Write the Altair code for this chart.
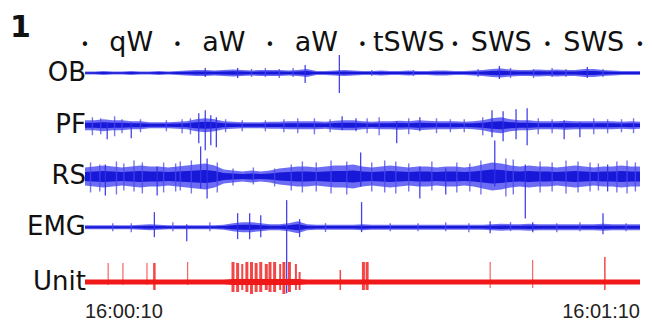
import altair as alt
import pandas as pd

# ---------------- data ----------------
channels = ["OB", "PF", "RS", "EMG", "Unit"]
levels = [4.0, 3.0, 2.02, 1.05, 0.0]          # vertical slot of each trace
GAIN = 1 / 52.25                               # trace units per amplitude unit

# envelope amplitude at each second (t = 0..60 s)
ob_amp = [1.5, 1.5, 2, 1.5, 1.5, 2, 1.5, 1.5, 2, 1.5, 2,
          2.5, 3, 3, 2.5, 3, 3.5, 3, 2.5, 3, 3, 3,
          2.5, 3, 4, 2, 2, 2.5, 3, 2.5, 2,
          2, 2.5, 2, 2, 2.5, 2, 2, 2.5, 2.5, 2,
          2, 2.5, 3, 4, 4.5, 3.5, 3, 3, 3.5, 3,
          3.5, 3, 3, 4, 4, 3, 2.5, 2, 2, 2]
pf_amp = [5, 5, 6, 5, 5, 4, 4, 3, 3, 3, 3.5,
          4, 6, 7, 6, 4, 3.5, 3, 3, 3, 3.5,
          3.5, 4, 4, 4, 4, 3.5, 4.5, 5, 5, 4,
          3.5, 4, 4, 4.5, 4, 5, 4.5, 4, 4, 4,
          3.5, 4, 5, 7, 8, 6, 5, 5, 4, 4,
          4, 4.5, 4, 4, 4, 4, 4, 3.5, 4, 3.5]
rs_amp = [9, 10, 11, 10, 9, 10, 11, 10, 10, 9, 10,
          11, 12, 13, 11, 7, 6, 5, 6, 5, 6,
          8, 9, 10, 10, 9, 10, 11, 11, 12, 10,
          9, 10, 11, 10, 9, 10, 10, 9, 10, 10,
          9, 10, 12, 14, 13, 11, 10, 11, 10, 10,
          9, 10, 11, 10, 9, 10, 10, 11, 10, 10]
emg_amp = [2, 2, 2, 2, 2, 2, 2.5, 3, 2.5, 2, 2,
           2, 2, 2, 2, 2.5, 4, 5, 5, 4, 3,
           3, 4, 6, 3, 2.5, 2.5, 2.5, 2.5, 2.5, 3,
           2.5, 2.5, 2.5, 2.5, 2.5, 2.5, 2.5, 2.5, 2.5, 2.5,
           2.5, 2.5, 2.5, 3, 3.5, 3, 3, 3.5, 3, 3,
           3, 3, 3, 3, 3, 3.5, 3, 3, 3, 3]
unit_amp = [2.5, 2.5, 2.5, 2.5, 2.5, 2.5, 2.5, 2.5, 2.5, 2.5, 2.5,
            2.5, 2.5, 2.5, 2.5, 2.5, 3, 3, 3, 3, 3,
            3, 3, 3, 2.5, 2.5, 2.5, 2.5, 2.5, 2.5, 2.5,
            2.5, 2.5, 2.5, 2.5, 2.5, 2.5, 2.5, 2.5, 2.5, 2.5,
            2.5, 2.5, 2.5, 2.5, 2.5, 2.5, 2.5, 2.5, 2.5, 2.5,
            2.5, 2.5, 2.5, 2.5, 2.5, 2.5, 2.5, 2.5, 2.5, 2.5]

# large transients: time (s), excursion up, excursion down
ob_spk_t = [13.0, 16.5, 23.8, 27.5, 44.8, 54.3]
ob_spk_up = [5, 5, 8, 18, 7, 6]
ob_spk_dn = [4, 5, 10, 20, 6, 5]

pf_spk_t = [2.4, 5.0, 12.3, 13.0, 13.6, 14.2, 27.8, 29.3, 33.7, 36.2,
            44.0, 45.2, 46.6, 47.8, 51.8, 53.5]
pf_spk_up = [3, 3, 12, 15, 10, 8, 9, 7, 4, 8, 15, 14, 16, 17, 5, 3]
pf_spk_dn = [14, 13, 18, 25, 20, 22, 5, 6, 18, 6, 12, 16, 14, 20, 14, 12]

rs_spk_t = [2.2, 7.8, 12.5, 13.2, 29.8, 36.2, 39.0, 44.3, 47.6, 56.5]
rs_spk_up = [12, 10, 30, 18, 24, 10, 8, 36, 12, 12]
rs_spk_dn = [19, 19, 12, 22, 10, 22, 18, 10, 42, 15]

emg_spk_t = [7.5, 11.0, 16.5, 17.8, 19.0, 21.8, 23.2, 29.9, 43.8, 48.4, 56.0]
emg_spk_up = [15, 3, 14, 14, 12, 27, 8, 25, 6, 5, 14]
emg_spk_dn = [10, 14, 12, 12, 10, 66, 10, 5, 6, 5, 7]

# small ripples riding on each trace: time (s), up, down
ob_rip_t = [18.0, 19.5, 21.0, 22.5, 31.0, 35.5, 42.5, 46.0, 48.5, 50.5, 52.0, 56.0]
ob_rip_up = [4, 5, 4, 5, 3, 3, 4, 5, 4, 5, 4, 4]
ob_rip_dn = [4, 4, 5, 4, 3, 3, 4, 5, 5, 4, 4, 4]

pf_rip_t = [0.8, 1.7, 3.2, 4.0, 6.0, 8.8, 10.5, 11.4, 15.2, 17.0, 19.5, 21.5, 23.0, 24.8,
            26.5, 30.5, 31.8, 35.0, 38.0, 39.5, 41.0, 43.0, 49.0, 50.5, 55.0, 56.5, 58.0, 59.3]
pf_rip_up = [8, 7, 9, 6, 6, 5, 6, 7, 6, 5, 5, 6, 7, 7, 6, 7, 8, 7, 7, 6, 6, 8, 7, 6, 7, 6, 6, 7]
pf_rip_dn = [10, 9, 11, 8, 7, 6, 8, 9, 7, 6, 6, 7, 8, 9, 7, 8, 10, 9, 8, 7, 7, 10, 9, 8, 9, 8, 7, 8]

rs_rip_t = [0.6, 1.6, 3.4, 4.2, 5.3, 6.2, 8.5, 9.8, 10.3, 11.5, 14.3, 16.0, 18.2, 20.5,
            22.3, 23.5, 25.0, 26.6, 28.3, 31.0, 32.4, 33.6, 35.0, 37.5, 40.2, 41.6, 42.8,
            45.5, 46.3, 49.2, 50.5, 52.0, 53.3, 54.6, 55.5, 57.5, 58.6, 59.5]
rs_rip_up = [14, 12, 15, 13, 16, 14, 14, 13, 15, 16, 14, 8, 9, 8, 12, 15, 14, 16, 15, 14,
             16, 15, 13, 15, 14, 13, 16, 18, 17, 15, 14, 16, 15, 14, 13, 15, 16, 14]
rs_rip_dn = [16, 15, 18, 14, 15, 17, 16, 15, 14, 17, 16, 9, 8, 10, 14, 16, 15, 17, 18, 15,
             16, 17, 15, 14, 16, 15, 18, 20, 18, 16, 15, 17, 16, 15, 14, 16, 17, 15]

emg_rip_t = [3.0, 5.0, 9.5, 13.5, 26.0, 33.0, 36.0, 39.0, 41.5, 46.0, 51.0, 53.5, 58.5]
emg_rip_up = [4, 4, 5, 5, 4, 4, 4, 5, 4, 5, 4, 5, 4]
emg_rip_dn = [4, 5, 4, 4, 5, 4, 4, 4, 5, 4, 5, 4, 4]

unit_spk_t = [2.5, 4.1, 6.7, 7.5, 11.1,
              16.0, 16.5, 17.0, 17.5, 18.0, 18.5, 19.0, 19.6, 20.0, 20.5,
              21.1, 21.5, 22.1, 22.8, 23.2,
              27.6, 30.1, 30.5, 43.8, 48.4, 56.2]
unit_spk_up = [19, 19, 19, 19, 20,
               20, 19, 18, 20, 20, 19, 20, 18, 20, 20,
               18, 20, 20, 18, 10,
               12, 20, 20, 20, 22, 25]
unit_spk_dn = [3, 3, 3, 8, 3,
               10, 10, 8, 10, 12, 10, 10, 8, 10, 10,
               8, 12, 10, 8, 8,
               8, 8, 8, 6, 6, 8]
unit_spk_w = [1, 1, 1, 2.5, 1,
              3, 3, 2, 3, 3, 3, 3, 3, 3, 3,
              2, 3, 3, 2, 2,
              1.5, 3, 3, 1, 1, 1.5]

stages = ["qW", "aW", "aW", "tSWS", "SWS", "SWS"]
stage_t = [5, 15, 25, 35, 45, 55]
bullet_t = [0, 10, 20, 30, 40, 50, 60]
time_start_label = "16:00:10"
time_end_label = "16:01:10"

# ---------------- build tables ----------------
amps = {"OB": ob_amp, "PF": pf_amp, "RS": rs_amp, "EMG": emg_amp, "Unit": unit_amp}
spikes = {
    "OB": (ob_spk_t, ob_spk_up, ob_spk_dn),
    "PF": (pf_spk_t, pf_spk_up, pf_spk_dn),
    "RS": (rs_spk_t, rs_spk_up, rs_spk_dn),
    "EMG": (emg_spk_t, emg_spk_up, emg_spk_dn),
}
ripples = {
    "OB": (ob_rip_t, ob_rip_up, ob_rip_dn),
    "PF": (pf_rip_t, pf_rip_up, pf_rip_dn),
    "RS": (rs_rip_t, rs_rip_up, rs_rip_dn),
    "EMG": (emg_rip_t, emg_rip_up, emg_rip_dn),
}
lvl = dict(zip(channels, levels))

env_rows = []
for ch in channels:
    for t, a in enumerate(amps[ch]):
        env_rows.append({"ch": ch, "t": t,
                         "hi": lvl[ch] + a * GAIN, "lo": lvl[ch] - a * GAIN,
                         "hi2": lvl[ch] + 0.5 * a * GAIN, "lo2": lvl[ch] - 0.5 * a * GAIN})
env = pd.DataFrame(env_rows)
blue_env = env[env.ch != "Unit"]
red_env = env[env.ch == "Unit"]


def excursions(table):
    rows = []
    for ch, (ts, ups, dns) in table.items():
        for t, u, d in zip(ts, ups, dns):
            rows.append({"ch": ch, "t": t, "hi": lvl[ch] + u * GAIN, "lo": lvl[ch] - d * GAIN})
    return pd.DataFrame(rows)


spk = excursions(spikes)
rip = excursions(ripples)

uspk = pd.DataFrame({
    "t": unit_spk_t,
    "hi": [lvl["Unit"] + u * GAIN for u in unit_spk_up],
    "lo": [lvl["Unit"] - d * GAIN for d in unit_spk_dn],
    "w": unit_spk_w,
})

labels = pd.DataFrame({"ch": channels, "lvl": levels})
stage_df = pd.DataFrame({"label": stages, "t": stage_t})
bullet_df = pd.DataFrame({"t": bullet_t, "label": ["•"] * len(bullet_t)})
t0_df = pd.DataFrame({"label": [time_start_label], "t": [0]})
t1_df = pd.DataFrame({"label": [time_end_label], "t": [60]})

xs = alt.Scale(domain=[0, 60], range=[77, 632])
ys = alt.Scale(domain=[0, 4], range=[274, 65])
X = alt.X("t:Q", scale=xs, axis=None)

BLUE_OUT = "#5252f2"
BLUE_IN = "#1818d8"
RED = "#f01818"

outer = alt.Chart(blue_env).mark_area(color=BLUE_OUT, opacity=0.85).encode(
    x=X, y=alt.Y("hi:Q", scale=ys, axis=None), y2="lo:Q", detail="ch:N")
inner = alt.Chart(blue_env).mark_area(color=BLUE_IN).encode(
    x=X, y=alt.Y("hi2:Q", scale=ys, axis=None), y2="lo2:Q", detail="ch:N")
rip_layer = alt.Chart(rip).mark_rule(color="#4848ee", strokeWidth=1.4, opacity=0.75).encode(
    x=X, y=alt.Y("hi:Q", scale=ys, axis=None), y2="lo:Q")
spk_layer = alt.Chart(spk).mark_rule(color="#3030e6", strokeWidth=1.3, opacity=0.9).encode(
    x=X, y=alt.Y("hi:Q", scale=ys, axis=None), y2="lo:Q")
unit_band = alt.Chart(red_env).mark_area(color=RED).encode(
    x=X, y=alt.Y("hi:Q", scale=ys, axis=None), y2="lo:Q")
unit_spk = alt.Chart(uspk).mark_rule(color=RED, opacity=0.8).encode(
    x=X, y=alt.Y("hi:Q", scale=ys, axis=None), y2="lo:Q",
    strokeWidth=alt.StrokeWidth("w:Q", scale=None))

LFONT = "DejaVu Sans"
ch_text = alt.Chart(labels).mark_text(
    align="right", baseline="middle", font=LFONT, fontSize=26, color="#111111"
).encode(x=alt.value(78), y=alt.Y("lvl:Q", scale=ys, axis=None), text="ch:N")

stage_text = alt.Chart(stage_df).mark_text(
    align="center", baseline="alphabetic", font=LFONT, fontSize=27, color="#111111"
).encode(x=X, y=alt.value(43), text="label:N")
bullet_text = alt.Chart(bullet_df).mark_text(
    align="center", baseline="alphabetic", font=LFONT, fontSize=15, color="#111111"
).encode(x=X, y=alt.value(42), text="label:N")

TFONT = "Liberation Sans"
time0 = alt.Chart(t0_df).mark_text(
    align="left", baseline="alphabetic", font=TFONT, fontSize=20, color="#222222"
).encode(x=X, y=alt.value(310), text="label:N")
time1 = alt.Chart(t1_df).mark_text(
    align="right", baseline="alphabetic", font=TFONT, fontSize=20, color="#222222"
).encode(x=X, y=alt.value(310), text="label:N")

num_df = pd.DataFrame({"label": ["1"]})
num_text = alt.Chart(num_df).mark_text(
    align="left", baseline="alphabetic", font=LFONT, fontSize=30, fontWeight="bold",
    color="#111111"
).encode(x=alt.value(2), y=alt.value(29), text="label:N")

chart = alt.layer(
    outer, inner, rip_layer, spk_layer, unit_band, unit_spk,
    ch_text, stage_text, bullet_text, time0, time1, num_text
).properties(
    width=636, height=315, padding=0, background="white",
    autosize=alt.AutoSizeParams(type="none")
).configure_view(stroke=None)

chart.save("out.html", embed_options={"renderer": "svg", "actions": False})
